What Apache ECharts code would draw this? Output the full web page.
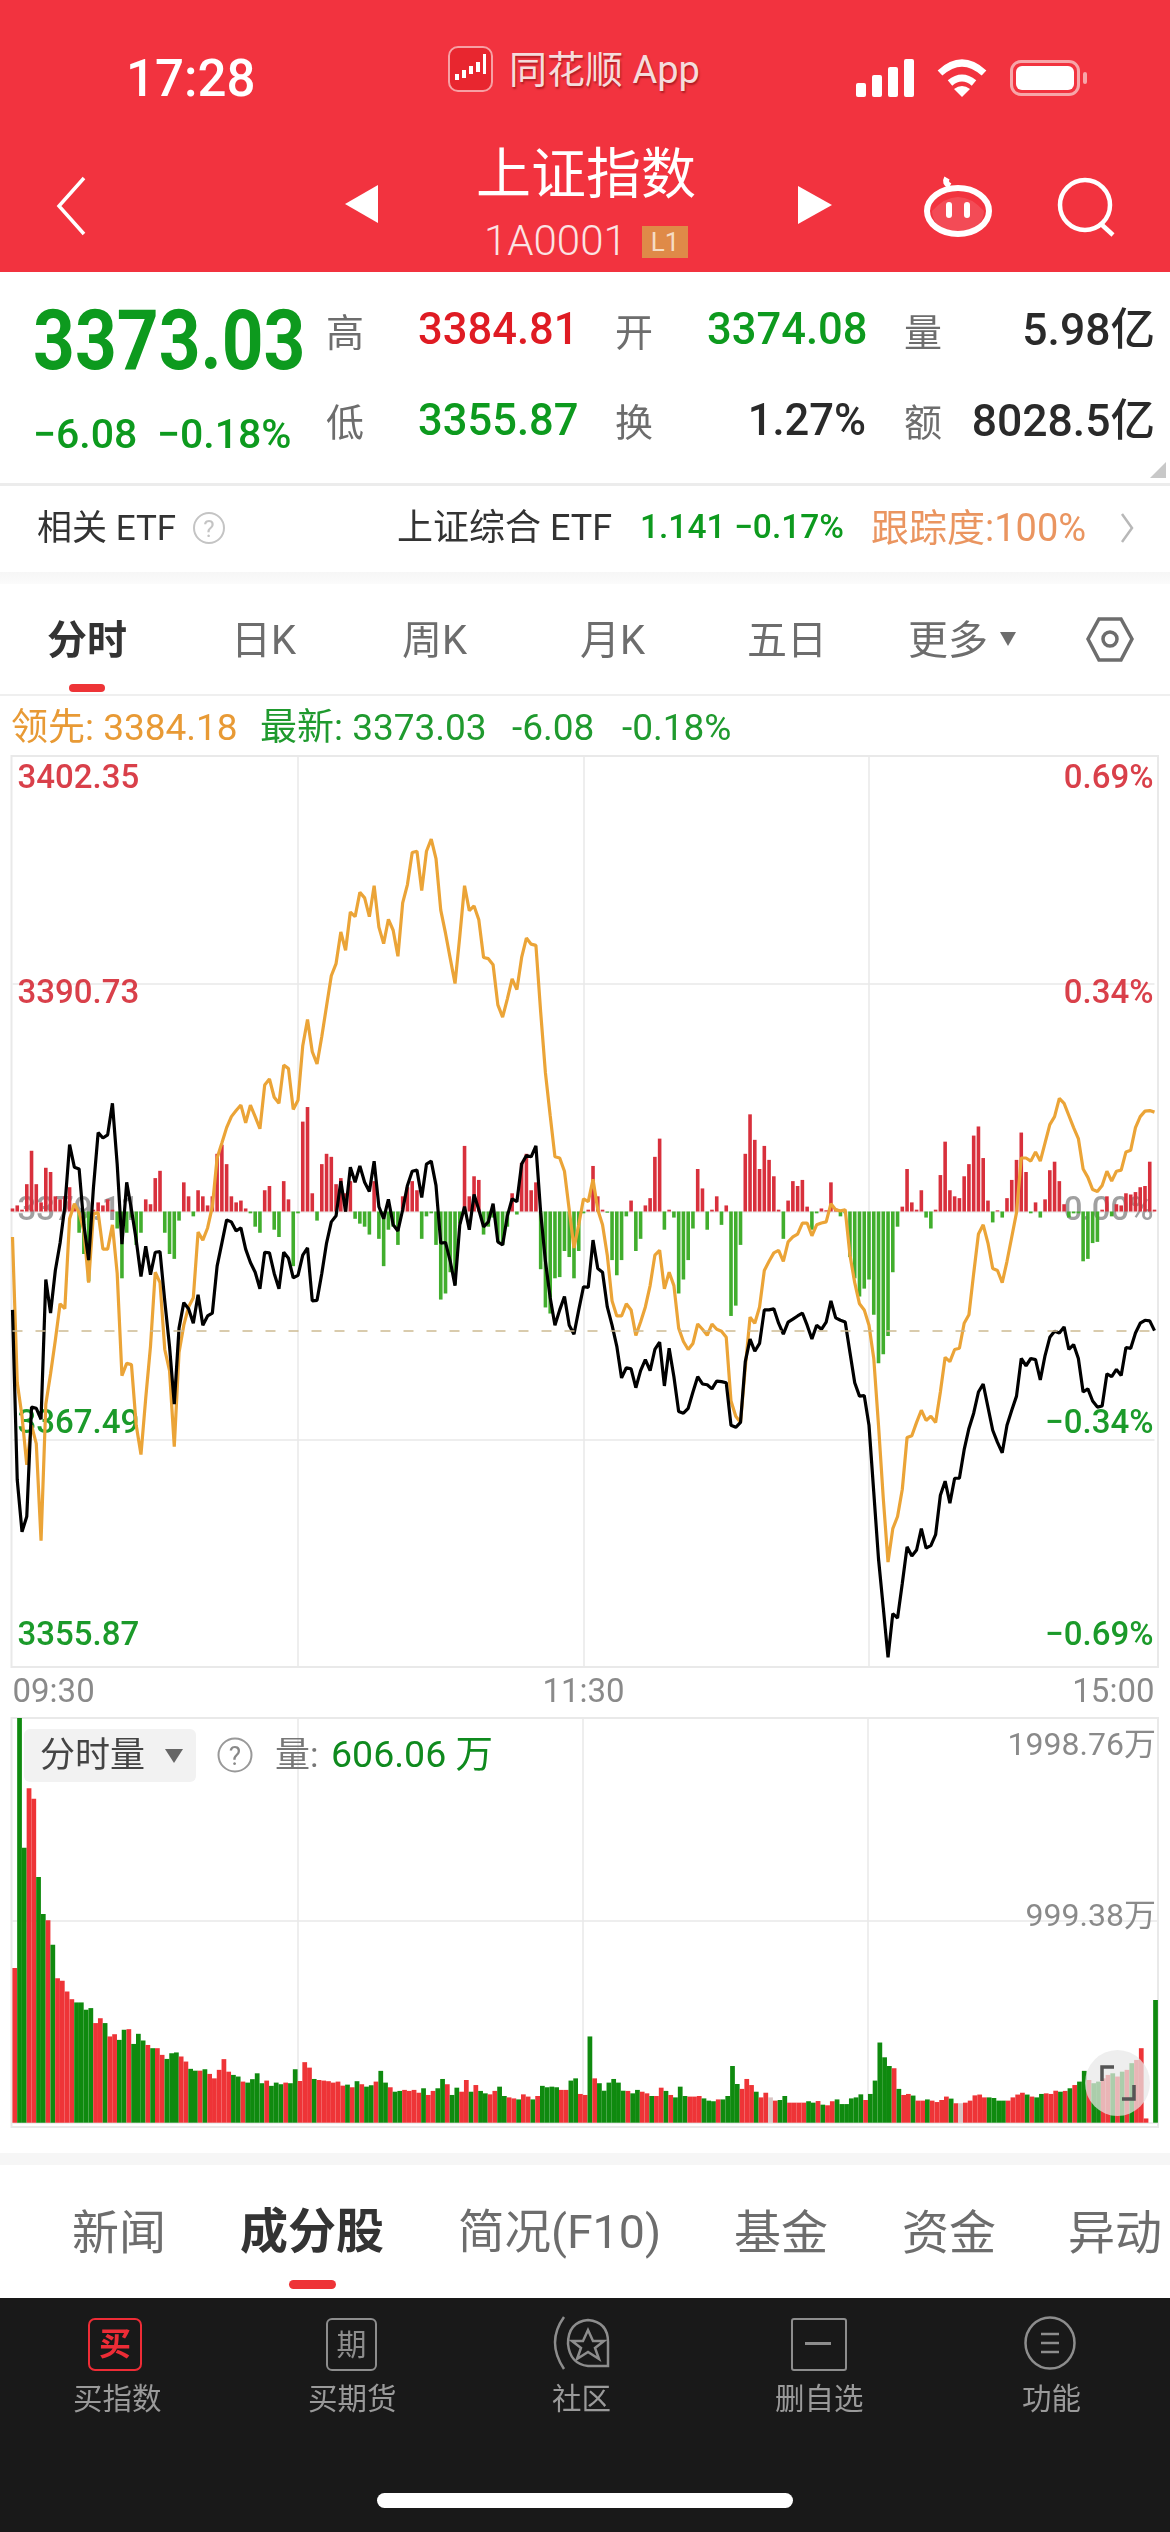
<!DOCTYPE html>
<html>
<head>
<meta charset="utf-8">
<style>
html,body{margin:0;padding:0;background:#fff;}
#page{position:relative;width:1170px;height:2532px;overflow:hidden;font-family:Roboto,"Noto Sans CJK SC",sans-serif;color:#333;}
#main{position:absolute;left:0;top:0;width:1170px;height:2532px;}
#chrome{position:absolute;left:0;top:0;width:1170px;height:2532px;pointer-events:none;}
.t{position:absolute;white-space:nowrap;line-height:1;transform:translateY(-50%);}
.box{position:absolute;}
svg{position:absolute;overflow:visible;}
.g{color:#0d9a1e;}.k{color:#6d6d6d;}.d{color:#2a2a2a;}
</style>
</head>
<body>
<div id="page">
<div id="main"></div>
<div id="chrome">
  <div class="box" style="left:0;top:0;width:1170px;height:272px;background:#f2333f"></div>
  <div class="t" style="left:126px;top:78px;font-size:51px;font-weight:500;color:#fff">17:28</div>
  <div class="box" style="left:448px;top:46px;width:41px;height:42px;border:2px solid #f7a0a4;border-radius:10px;background:#e8262f"></div>
  <svg style="left:452px;top:50px" width="36" height="36"><path d="M3 24h4v6H3zM10 20h4v8h-4zM17 16h4v8h-4zM24 12h4v10h-4zM31 4h3v20h-3z" fill="#fff"/></svg>
  <div class="t" style="left:509px;top:70px;font-size:38px;color:#f5dcdc;text-shadow:1px 2px 2px rgba(90,0,0,.45)">同花顺 App</div>
  <svg style="left:856px;top:59px" width="58" height="38"><g fill="#fff"><rect x="0" y="24" width="10" height="14" rx="2"/><rect x="16" y="16" width="10" height="22" rx="2"/><rect x="32" y="8" width="10" height="30" rx="2"/><rect x="48" y="0" width="10" height="38" rx="2"/></g></svg>
  <svg style="left:937px;top:59px" width="50" height="38"><g fill="none" stroke="#fff" stroke-width="7"><path d="M3 14q22-20 44 0"/><path d="M13 24q12-10 24 0"/></g><path d="M25 38l-8-8q8-6 16 0z" fill="#fff"/></svg>
  <div class="box" style="left:1010px;top:60px;width:70px;height:36px;border:3px solid #f7a6a9;border-radius:11px;box-sizing:border-box"></div>
  <div class="box" style="left:1016px;top:66px;width:58px;height:24px;background:#fff;border-radius:6px"></div>
  <div class="box" style="left:1083px;top:72px;width:4px;height:12px;background:#f7a6a9;border-radius:2px"></div>
  <svg style="left:56px;top:177px" width="30" height="58"><path d="M28 1L3 29l25 28" fill="none" stroke="#fff" stroke-width="3.5"/></svg>
  <svg style="left:345px;top:185px" width="33" height="38"><path d="M33 0v38L0 19z" fill="#fff"/></svg>
  <div class="t" style="left:476px;top:174px;font-size:55px;color:#fff">上证指数</div>
  <div class="t" style="left:484px;top:241px;font-size:42px;font-weight:300;color:#fbe3e3">1A0001</div>
  <div class="box" style="left:642px;top:226px;width:46px;height:32px;background:#df8a48;color:#f6dcc4;font-size:26px;line-height:32px;text-align:center">L1</div>
  <svg style="left:798px;top:186px" width="34" height="38"><path d="M0 0v38l34-19z" fill="#fff"/></svg>
  <svg style="left:924px;top:175px" width="68" height="62"><g fill="none" stroke="#fff" stroke-width="6"><ellipse cx="34" cy="36" rx="31" ry="23"/><path d="M26 11q-6-3-3-8"/></g><rect x="22" y="27" width="6" height="16" rx="3" fill="#fff"/><rect x="40" y="27" width="6" height="16" rx="3" fill="#fff"/><path d="M8 36q26-28 52 0q-1 20-26 20t-26-20z" fill="#fff" fill-opacity=".12"/></svg>
  <svg style="left:1057px;top:177px" width="60" height="60"><circle cx="28" cy="28" r="25" fill="none" stroke="#fff" stroke-width="4.5"/><path d="M44 47l12 11" stroke="#fff" stroke-width="4.5"/></svg>

  <div class="t g" style="left:33px;top:341px;font-size:73px;font-weight:700;transform:translateY(-50%) scaleY(1.13)">3373.03</div>
  <div class="t g" style="left:33px;top:434px;font-size:41px;font-weight:500">−6.08</div>
  <div class="t g" style="left:157px;top:434px;font-size:41px;font-weight:500">−0.18%</div>
  <div class="t k" style="left:326px;top:333px;font-size:38px">高</div>
  <div class="t" style="left:418px;top:330px;font-size:43.5px;font-weight:500;color:#df1b23">3384.81</div>
  <div class="t k" style="left:615px;top:333px;font-size:38px">开</div>
  <div class="t g" style="left:707px;top:330px;font-size:43.5px;font-weight:500">3374.08</div>
  <div class="t k" style="left:904px;top:333px;font-size:38px">量</div>
  <div class="t d" style="right:15px;top:330px;font-size:44.5px;font-weight:500">5.98亿</div>
  <div class="t k" style="left:326px;top:423px;font-size:38px">低</div>
  <div class="t g" style="left:418px;top:421px;font-size:43.5px;font-weight:500">3355.87</div>
  <div class="t k" style="left:615px;top:423px;font-size:38px">换</div>
  <div class="t d" style="right:304px;top:421px;font-size:43.5px;font-weight:500">1.27%</div>
  <div class="t k" style="left:904px;top:423px;font-size:38px">额</div>
  <div class="t d" style="right:15px;top:421px;font-size:44.5px;font-weight:500">8028.5亿</div>
  <svg style="left:1150px;top:462px" width="16" height="16"><path d="M16 0v16H0z" fill="#c8c8c8"/></svg>
  <div class="box" style="left:0;top:483px;width:1170px;height:3px;background:#ececec"></div>

  <div class="t" style="left:37px;top:528px;font-size:35px;color:#333">相关 ETF</div>
  <svg style="left:193px;top:511px" width="32" height="34"><circle cx="16" cy="17" r="15" fill="none" stroke="#c4c4c4" stroke-width="2"/><text x="16" y="26" font-size="24" fill="#c4c4c4" text-anchor="middle">?</text></svg>
  <div class="t" style="left:397px;top:528px;font-size:36px;color:#333">上证综合 ETF</div>
  <div class="t g" style="left:640px;top:527px;font-size:33.5px;font-weight:500">1.141</div>
  <div class="t g" style="left:734px;top:527px;font-size:33.5px;font-weight:500">−0.17%</div>
  <div class="t" style="left:871px;top:528px;font-size:38px;color:#ea9560">跟踪度:100%</div>
  <svg style="left:1120px;top:513px" width="14" height="30"><path d="M2 1l10 14L2 29" fill="none" stroke="#b8b8b8" stroke-width="2.5"/></svg>
  <div class="box" style="left:0;top:572px;width:1170px;height:12px;background:linear-gradient(#f6f6f6,#fbfbfb)"></div>

  <div class="t" style="left:47px;top:641px;font-size:40px;font-weight:700;color:#333">分时</div>
  <div class="t k" style="left:231px;top:641px;font-size:40px">日K</div>
  <div class="t k" style="left:402px;top:641px;font-size:40px">周K</div>
  <div class="t k" style="left:580px;top:641px;font-size:40px">月K</div>
  <div class="t k" style="left:747px;top:641px;font-size:40px">五日</div>
  <div class="t k" style="left:908px;top:641px;font-size:40px">更多</div>
  <svg style="left:1000px;top:632px" width="16" height="14"><path d="M0 0h16L8 14z" fill="#6d6d6d"/></svg>
  <svg style="left:1086px;top:617px" width="48" height="45"><path d="M13 2h22l11 20-11 21H13L2 22z" fill="none" stroke="#6d6d6d" stroke-width="3.5"/><circle cx="24" cy="22" r="7" fill="none" stroke="#6d6d6d" stroke-width="3.5"/></svg>
  <div class="box" style="left:69px;top:684px;width:36px;height:8px;background:#ee3437;border-radius:4px"></div>
  <div class="box" style="left:0;top:694px;width:1170px;height:2px;background:#efefef"></div>

  <div class="t" style="left:11px;top:727px;font-size:37px;color:#e89a35">领先: 3384.18</div>
  <div class="t" style="left:260px;top:727px;font-size:37px;color:#1f9a2e">最新: 3373.03</div>
  <div class="t" style="left:512px;top:727px;font-size:37px;color:#1f9a2e">-6.08</div>
  <div class="t" style="left:622px;top:727px;font-size:37px;color:#1f9a2e">-0.18%</div>

  <div class="box" style="left:24px;top:1729px;width:172px;height:53px;background:#f2f2f2;border-radius:6px"></div>
  <div class="t" style="left:40px;top:1755px;font-size:35px;color:#444">分时量</div>
  <svg style="left:165px;top:1749px" width="18" height="14"><path d="M0 0h18L9 14z" fill="#666"/></svg>
  <svg style="left:217px;top:1737px" width="36" height="36"><circle cx="18" cy="18" r="16.5" fill="none" stroke="#999" stroke-width="2"/><text x="18" y="28" font-size="26" fill="#888" text-anchor="middle">?</text></svg>
  <div class="t" style="left:275px;top:1755px;font-size:35px;color:#777">量:</div>
  <div class="t" style="left:331px;top:1755px;font-size:37.5px;color:#0f8a1e">606.06 万</div>

  <div class="box" style="left:1085px;top:2050px;width:65px;height:66px;border-radius:50%;background:rgba(232,232,232,.72)"></div>
  <svg style="left:1100px;top:2065px" width="36" height="36"><path d="M14 2H2v14M22 34h12V20" fill="none" stroke="#555" stroke-width="3.5"/></svg>

  <div class="box" style="left:0;top:2153px;width:1170px;height:12px;background:#f6f6f6"></div>
  <div class="t k" style="left:72px;top:2232px;font-size:47px">新闻</div>
  <div class="t" style="left:240px;top:2232px;font-size:48px;font-weight:700;color:#333">成分股</div>
  <div class="t k" style="left:458px;top:2232px;font-size:46.5px">简况(F10)</div>
  <div class="t k" style="left:734px;top:2232px;font-size:47px">基金</div>
  <div class="t k" style="left:902px;top:2232px;font-size:47px">资金</div>
  <div class="t k" style="left:1068px;top:2232px;font-size:47px">异动</div>
  <div class="box" style="left:289px;top:2280px;width:47px;height:9px;background:#ee3437;border-radius:5px"></div>

  <div class="box" style="left:0;top:2298px;width:1170px;height:234px;background:#191919"></div>
  <div class="box" style="left:88px;top:2318px;width:50px;height:49px;border:2.5px solid #ee2c36;border-radius:7px;color:#ee2c36;font-size:32px;line-height:49px;text-align:center;font-weight:700">买</div>
  <div class="box" style="left:326px;top:2318px;width:47px;height:49px;border:2.5px solid #8d8d8d;border-radius:6px;color:#8d8d8d;font-size:30px;line-height:49px;text-align:center">期</div>
  <svg style="left:550px;top:2316px" width="60" height="54"><g fill="none" stroke="#8d8d8d" stroke-width="2.5"><path d="M14 1Q-4 26 14 53"/><path d="M58 50V26Q58 6 38 4 18 6 18 28 20 48 38 50z"/><path d="M38 14l5 11h11l-9 7 4 11-11-7-11 7 4-11-9-7h11z"/></g></svg>
  <div class="box" style="left:791px;top:2318px;width:52px;height:49px;border:2.5px solid #8d8d8d;border-radius:3px"></div>
  <div class="box" style="left:805px;top:2342px;width:26px;height:3px;background:#8d8d8d"></div>
  <svg style="left:1024px;top:2316px" width="52" height="54"><ellipse cx="26" cy="27" rx="24.5" ry="25.5" fill="none" stroke="#8d8d8d" stroke-width="2.5"/><path d="M17 18h18M17 27h18M17 36h18" stroke="#8d8d8d" stroke-width="2.5"/></svg>
  <div class="t" style="left:73px;top:2400px;font-size:29.5px;color:#9a9a9a">买指数</div>
  <div class="t" style="left:308px;top:2400px;font-size:29.5px;color:#9a9a9a">买期货</div>
  <div class="t" style="left:552px;top:2400px;font-size:29.5px;color:#9a9a9a">社区</div>
  <div class="t" style="left:775px;top:2400px;font-size:29.5px;color:#9a9a9a">删自选</div>
  <div class="t" style="left:1022px;top:2400px;font-size:29.5px;color:#9a9a9a">功能</div>
  <div class="box" style="left:377px;top:2493px;width:416px;height:15px;background:#fff;border-radius:8px"></div>
</div>
</div>
<script src="https://cdn.jsdelivr.net/npm/echarts@6/dist/echarts.min.js"></script>
<script>
var prevClose = 3379.11;
var priceTicks = ['3355.87', '3367.49', '3379.11', '3390.73', '3402.35'];
var pctTicks = ['−0.69%', '−0.34%', '0.00%', '0.34%', '0.69%'];
var volTicks = ['', '999.38万', '1998.76万'];
var timeTicks = {0: '09:30', 120: '11:30', 240: '15:00'};

// 最新价相对昨收的涨跌点数，每分钟一个
var priceChange = [
  -5.02,-13.70,-16.34,-15.56,-9.98,-10.04,-10.60,-3.47,-5.18,-3.01,
  -1.61,0.25,3.41,2.26,2.17,-0.68,-2.48,1.18,4.03,3.75,
  3.91,5.52,2.42,-1.67,1.49,0.09,-1.46,-3.32,-1.77,-3.22,
  -2.08,-2.05,-4.56,-6.88,-9.83,-5.95,-4.65,-4.96,-5.70,-4.25,
  -5.80,-5.33,-5.18,-2.79,-1.61,-0.43,-0.53,-0.99,-0.84,-1.92,
  -2.60,-3.10,-3.94,-2.08,-2.11,-3.16,-3.94,-2.08,-2.39,-3.38,
  -3.26,-2.23,-1.86,-4.56,-4.53,-3.16,-1.61,-0.53,-0.22,1.55,
  0,2.26,1.49,2.33,1.49,1.02,2.57,0.25,-0.37,0.62,
  -0.68,-0.99,0.09,1.33,2.05,2.11,0.71,2.42,2.57,1.33,
  -1.61,-1.58,-2.54,-3.78,-0.68,0.25,-0.93,0.87,0.09,-0.78,
  -0.53,0.40,-1.55,-1.71,-0.22,0.65,0.50,2.42,2.85,2.79,
  3.35,-0.06,-2.54,-4.40,-5.80,-5.02,-4.34,-5.80,-6.26,-5.02,
  -3.84,-3.87,-1.46,-2.91,-3.10,-4.87,-5.80,-6.88,-8.49,-7.97,
  -8.03,-8.99,-8.12,-7.56,-8.12,-7.04,-6.67,-8.90,-6.98,-8.43,
  -10.20,-10.29,-10.04,-9.21,-8.43,-8.80,-8.84,-9.05,-8.65,-8.68,
  -8.74,-10.91,-11.01,-10.76,-7.66,-6.51,-7.13,-6.73,-5.02,-5.02,
  -4.96,-5.70,-6.26,-5.64,-5.49,-5.33,-5.18,-5.80,-6.51,-5.80,
  -6.01,-5.64,-4.56,-5.43,-5.55,-5.64,-7.19,-8.74,-9.42,-9.39,
  -10.91,-14.32,-17.73,-20.21,-22.75,-20.52,-20.74,-18.97,-17.11,-17.58,
  -17.27,-16.18,-17.17,-17.05,-16.49,-14.48,-13.76,-14.88,-13.61,-13.61,
  -12.15,-11.07,-10.29,-9.21,-8.80,-9.98,-11.16,-11.78,-12.31,-10.91,
  -10.14,-9.42,-7.50,-7.87,-7.50,-7.56,-8.59,-7.35,-6.42,-6.11,
  -6.20,-5.89,-7.04,-6.79,-7.50,-9.21,-9.05,-9.67,-9.98,-9.92,
  -8.28,-8.43,-8.06,-8.37,-6.94,-6.98,-6.20,-5.70,-5.55,-5.58,
  -6.08
];

// 领先指标相对昨收的涨跌点数
var leadChange = [
  -1.30,-8.74,-10.45,-12.93,-10.91,-11.84,-16.80,-9.83,-8.28,-6.57,
  -4.71,-4.96,-0.37,0.40,-0.06,-0.99,-3.63,-0.12,-0.06,-1.92,
  -1.92,-0.68,-3.16,-8.37,-7.75,-7.81,-10.91,-12.40,-9.52,-6.88,
  -3.10,-3.63,-7.04,-8.12,-12.00,-7.19,-5.80,-4.87,-4.40,-1.05,
  -1.46,-0.84,0.25,2.73,3.50,4.28,4.84,5.15,5.43,4.53,
  5.43,4.84,4.22,6.45,6.76,5.83,5.52,7.47,7.29,5.21,
  5.67,8.46,9.80,8.15,7.53,8.93,10.48,12.03,12.65,14.26,
  13.33,15.28,15.04,16.28,16.00,15.04,16.62,14.51,13.67,14.91,
  14.35,13.02,15.75,16.68,18.32,18.38,16.37,18.38,19.00,18.01,
  15.38,14.20,12.90,11.63,14.04,16.62,15.35,15.59,14.88,12.96,
  12.90,12.59,10.54,9.92,10.85,11.87,11.32,12.96,13.95,13.64,
  13.58,10.17,7.07,4.90,2.79,2.73,2.05,0.09,-1.86,-0.68,
  0.65,0.50,1.64,0.09,-0.68,-2.23,-4.56,-5.33,-5.33,-4.71,
  -5.02,-6.32,-5.64,-4.87,-3.78,-2.23,-1.98,-3.94,-3.10,-3.78,
  -5.95,-6.63,-7.04,-6.73,-5.74,-6.01,-6.32,-5.74,-6.01,-6.11,
  -6.42,-9.67,-10.45,-10.76,-7.97,-5.39,-5.70,-4.87,-3.01,-2.54,
  -2.11,-1.98,-2.54,-1.55,-1.30,-1.15,-0.59,-0.59,-1.24,-0.68,
  -0.59,-0.53,0.40,0.09,0.03,0.09,-2.23,-3.63,-4.71,-5.02,
  -5.80,-7.50,-10.91,-14.63,-17.89,-16.18,-15.56,-14.17,-11.53,-11.44,
  -10.76,-10.14,-10.66,-10.45,-10.76,-9.21,-7.44,-7.66,-7.04,-6.98,
  -5.70,-5.27,-3.16,-1.15,-0.68,-1.61,-2.91,-3.01,-3.63,-2.54,
  -1.30,-0.06,2.73,2.73,2.57,3.04,2.57,3.50,4.43,4.84,
  5.77,5.52,4.90,4.28,3.72,2.17,1.74,1.12,1.02,1.33,
  2.05,1.55,2.05,2.11,3.04,3.13,4.28,4.84,5.12,5.15,
  5.07
];

// 红绿柱强度，无单位，正为红负为绿
var strengthBars = [
  5,10,3,45,100,45,15,72,65,25,
  20,25,40,10,-35,-70,-115,3,15,10,
  20,3,-28,-110,-35,-10,-55,-35,20,12,
  55,67,-35,-70,-78,-15,48,25,-8,35,
  25,10,25,95,110,78,25,15,18,5,
  -3,-25,-35,35,42,-30,-42,50,20,-90,
  -3,148,172,30,-15,78,95,90,45,55,
  30,50,-12,-20,-25,-38,50,-45,-90,-30,
  -25,-55,25,40,50,35,-45,-8,-3,-55,
  -145,-135,-100,-120,-20,108,25,58,52,-38,
  -25,-10,-50,-55,-25,30,-5,80,95,35,
  48,-95,-158,-168,-110,-108,-65,-75,-110,-65,
  -3,3,75,25,3,-2,-80,-105,-80,-8,
  18,-65,-45,10,22,90,120,-30,3,-10,
  -135,-112,-80,-28,70,38,-30,3,25,-22,
  10,-172,-155,-55,95,160,118,70,108,85,
  58,3,-45,18,50,42,52,8,-30,-3,
  5,2,48,5,-8,-3,-75,-110,-140,-127,
  -112,-170,-250,-235,-205,-100,-25,8,70,15,
  3,35,-10,-28,3,60,115,35,25,22,
  58,78,125,140,88,18,-18,2,-10,22,
  52,85,130,65,-3,15,-10,20,68,82,
  50,12,-10,-3,-3,-82,-78,-52,-50,3,
  25,-8,12,10,30,28,32,40,42,82,
  3
];

// 分时量，单位万
var volume = [
  764,1998.76,1358,1652,1600,1214,1031,1000,879,713,
  701,648,610,594,594,558,566,492,516,492,
  426,437,409,459,462,389,439,406,384,368,
  368,335,315,343,347,327,302,266,257,257,
  264,241,219,261,314,252,236,228,203,198,
  215,244,195,208,182,198,190,198,195,264,
  206,299,272,216,211,208,205,198,203,183,
  188,175,205,190,178,185,203,256,198,175,
  153,157,162,157,162,148,170,137,157,170,
  216,190,137,173,153,211,153,186,157,145,
  140,157,178,132,125,120,115,140,129,115,
  132,182,175,178,175,162,162,208,219,142,
  137,426,219,195,158,198,216,198,158,157,
  145,162,153,145,132,132,173,157,137,125,
  178,132,129,129,132,120,109,106,115,115,
  132,280,191,167,216,186,153,125,148,125,
  109,112,132,99,99,99,99,106,99,107,
  89,86,106,115,92,92,120,125,140,112,
  142,208,396,323,280,269,167,137,142,134,
  109,109,115,109,102,112,129,119,96,96,
  99,109,135,139,125,125,122,109,109,109,
  125,139,148,139,129,125,142,145,142,158,
  153,157,170,186,203,256,211,195,203,219,
  236,244,228,252,261,294,310,368,21,0,
  606.06
];

var RED = '#d9404a', GREEN = '#1b9a2a', GRAY = '#a0a0a0', LINE = '#e9e9e9';

// 分钟轴：上午 09:30-11:30，下午 13:01-15:00
var minutes = [];
for (var m = 0; m <= 240; m++) {
  var t = m <= 120 ? 570 + m : 660 + m;
  minutes.push(('0' + Math.floor(t / 60)).slice(-2) + ':' + ('0' + t % 60).slice(-2));
}

function quarter(i) { return i === 60 || i === 120 || i === 180; }
function withClose(v) { return +(prevClose + v).toFixed(2); }

// 刻度文字相对刻度线上下错开，用 padding 顶开
var tickRich = {
  r0: {color: GREEN, padding: [0, 0, 60, 0]},
  r1: {color: GREEN, padding: [0, 0, 30, 0]},
  r2: {color: GRAY},
  r3: {color: RED, padding: [22, 0, 0, 0]},
  r4: {color: RED, padding: [48, 0, 0, 0]}
};

var volumeColors = volume.map(function (v, i) {
  if (i === 0) return '#ee3437';
  var diff = priceChange[i] - priceChange[i - 1];
  if (diff === 0) return '#d9c4c4';
  return diff > 0 ? '#ee3437' : '#0f8a0f';
});

var myChart = echarts.init(document.getElementById('main'), null, {renderer: 'canvas'});
myChart.setOption({
  animation: false,
  backgroundColor: 'transparent',
  graphic: [
    {type: 'rect', silent: true, z: -1, shape: {x: 11.5, y: 756, width: 1146.5, height: 911},
      style: {fill: '#fff', stroke: LINE, lineWidth: 2}},
    {type: 'rect', silent: true, z: -1, shape: {x: 11.5, y: 1718, width: 1146.5, height: 409},
      style: {fill: '#fff', stroke: LINE, lineWidth: 2}}
  ],
  grid: [
    {left: 12.5, top: 756, width: 1142, height: 911},
    {left: 12.4, top: 1718, width: 1145.5, height: 404.7}
  ],
  xAxis: [
    {
      type: 'category', gridIndex: 0, data: minutes, boundaryGap: false,
      axisLine: {show: false}, axisTick: {show: false},
      splitLine: {show: true, interval: function (i) { return quarter(i); }, lineStyle: {color: LINE, width: 1.5}},
      axisLabel: {
        show: true, margin: 10, color: '#8a8a8a', fontFamily: 'Roboto', fontSize: 33,
        alignMinLabel: 'left', alignMaxLabel: 'right',
        interval: function (i) { return timeTicks[i] !== undefined; },
        formatter: function (v, i) { return timeTicks[i] || ''; }
      }
    },
    {
      type: 'category', gridIndex: 1, data: minutes, boundaryGap: true,
      axisLine: {show: false}, axisTick: {show: false}, axisLabel: {show: false},
      splitLine: {show: true, interval: function (i) { return quarter(i); }, lineStyle: {color: LINE, width: 1.5}}
    }
  ],
  yAxis: [
    {
      type: 'value', gridIndex: 0, min: 3355.87, max: 3402.35, interval: 11.62,
      axisLine: {show: false}, axisTick: {show: false},
      splitLine: {show: true, lineStyle: {color: LINE, width: 1.5}},
      axisLabel: {
        inside: true, margin: 5, fontFamily: 'Roboto', fontSize: 33, fontWeight: 500,
        formatter: function (v, i) { return '{r' + i + '|' + priceTicks[i] + '}'; },
        rich: tickRich
      }
    },
    {
      type: 'value', gridIndex: 0, position: 'right', min: -0.69, max: 0.69, interval: 0.345,
      axisLine: {show: false}, axisTick: {show: false}, splitLine: {show: false},
      axisLabel: {
        inside: true, margin: 1, fontFamily: 'Roboto', fontSize: 33, fontWeight: 500,
        formatter: function (v, i) { return '{r' + i + '|' + pctTicks[i] + '}'; },
        rich: tickRich
      }
    },
    {
      type: 'value', gridIndex: 0, min: -750, max: 750, show: false, splitLine: {show: false}
    },
    {
      type: 'value', gridIndex: 1, position: 'right', min: 0, max: 1998.76, interval: 999.38,
      axisLine: {show: false}, axisTick: {show: false},
      splitLine: {show: true, lineStyle: {color: LINE, width: 1.5}},
      axisLabel: {
        inside: true, margin: 2, color: '#8a8a8a', fontFamily: 'Roboto, "Noto Sans CJK SC"', fontSize: 32,
        formatter: function (v, i) { return i === 1 ? '{m|' + volTicks[1] + '}' : i === 2 ? '{t|' + volTicks[2] + '}' : ''; },
        rich: {
          m: {color: '#8a8a8a', padding: [0, 0, 4, 0]},
          t: {color: '#8a8a8a', padding: [58, 0, 0, 0]}
        }
      }
    }
  ],
  series: [
    {
      name: '强度', type: 'bar', xAxisIndex: 0, yAxisIndex: 2, barWidth: 3.6, z: 2,
      data: strengthBars,
      itemStyle: {color: function (p) { return p.value >= 0 ? '#d8303c' : '#41ae2d'; }}
    },
    {
      name: '领先', type: 'line', xAxisIndex: 0, yAxisIndex: 0, showSymbol: false, z: 3,
      data: leadChange.map(withClose),
      lineStyle: {color: '#eba437', width: 3.2}
    },
    {
      name: '最新', type: 'line', xAxisIndex: 0, yAxisIndex: 0, showSymbol: false, z: 4,
      data: priceChange.map(withClose),
      lineStyle: {color: '#000', width: 3.2},
      markLine: {
        silent: true, symbol: 'none', label: {show: false},
        lineStyle: {color: '#cdbb92', type: [10, 13], width: 1.5},
        data: [{yAxis: withClose(priceChange[priceChange.length - 1])}]
      }
    },
    {
      name: '分时量', type: 'bar', xAxisIndex: 1, yAxisIndex: 3, barWidth: 4.75,
      data: volume,
      itemStyle: {color: function (p) { return volumeColors[p.dataIndex]; }}
    }
  ]
});
</script>
</body>
</html>
